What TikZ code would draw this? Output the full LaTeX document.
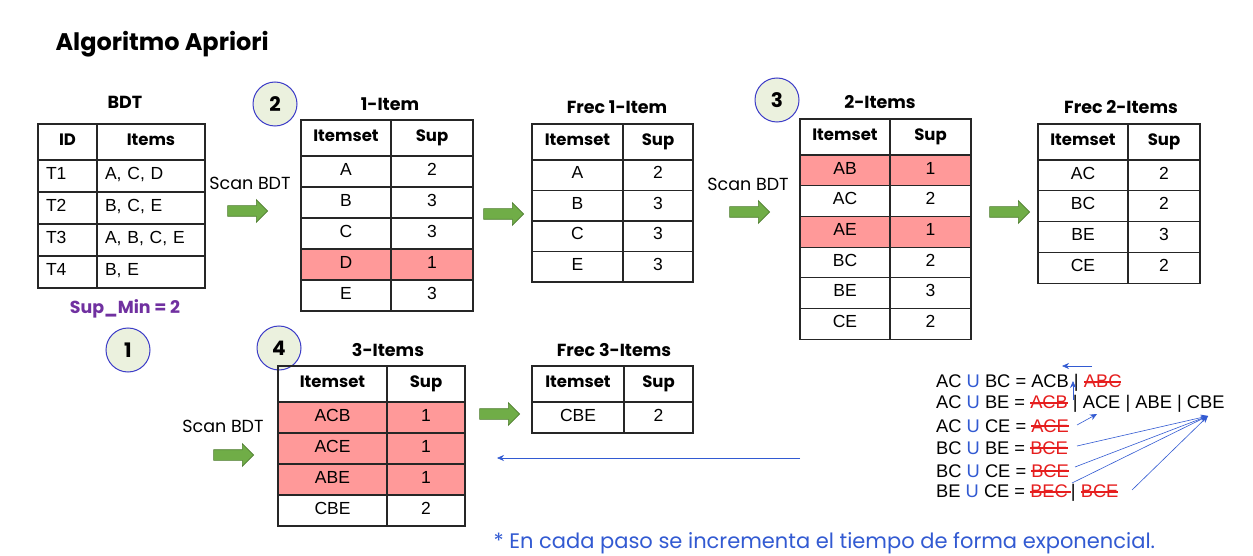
\documentclass[tikz,border=0pt]{standalone}
\usepackage{fontspec}
\setmainfont{Liberation Sans}
\newfontfamily\gotica{Poppins}
\usetikzlibrary{positioning,shapes.arrows,arrows.meta}
\definecolor{rojocelda}{RGB}{255,153,153}
\definecolor{verdeflecha}{RGB}{112,173,71}
\definecolor{verdeborde}{RGB}{80,126,50}
\definecolor{circfondo}{RGB}{235,241,222}
\definecolor{circborde}{RGB}{60,60,200}
\definecolor{azulnota}{RGB}{50,90,210}
\definecolor{morado}{RGB}{112,48,160}
\definecolor{tachado}{RGB}{230,30,30}
\newsavebox\cajatach
\newcommand{\tach}[1]{\sbox\cajatach{#1}\textcolor{tachado}{\rlap{\rule[0.28em]{\wd\cajatach}{1.8pt}}#1}}
\newcommand{\unio}{\textcolor{azulnota}{U}}
\tikzset{
  celda/.style={draw=black!85, line width=1.1pt, rectangle, outer sep=0pt, inner xsep=8pt, inner ysep=0pt,
    text height=1.6ex, text depth=0.2ex, font=\fontsize{17.5}{20}\selectfont},
  cab/.style={minimum height=36pt, font=\gotica\bfseries\fontsize{16.5}{18}\selectfont, align=center},
  bl/.style={align=center},
  rj/.style={fill=rojocelda, align=center},
  izq/.style={align=left},
  titulo/.style={font=\gotica\bfseries\fontsize{17.5}{20}\selectfont},
  paso/.style={circle, draw=circborde, fill=circfondo, line width=1pt, minimum size=44pt, inner sep=0pt,
    font=\gotica\bfseries\fontsize{20}{22}\selectfont},
  flecha/.style={single arrow, draw=verdeborde, fill=verdeflecha, line width=0.6pt, inner sep=5pt,
    minimum height=40pt, single arrow head extend=6pt},
  scan/.style={font=\gotica\fontsize{17.5}{20}\selectfont},
  union/.style={anchor=west, inner sep=0pt, font=\fontsize{18.3}{21}\selectfont},
  enlace/.style={draw=azulnota, line width=0.6pt, -{Stealth[length=7pt,width=6pt]}}
}
% tabla: nombre, x0, x1, x2, ytop, alto fila, filas
\newcommand{\tabla}[7]{%
  \pgfmathsetmacro\anchoa{#3-#2-16}%
  \pgfmathsetmacro\anchob{#4-#3-16}%
  \foreach \a/\b/\e [count=\i, remember=\i as \j (initially 0)] in {#7}{%
    \ifnum\i=1
      \node[celda, minimum height=#6pt, \e, text width=\anchoa pt, anchor=north west] (#1-\i-a) at (#2,#5) {\a};
    \else
      \node[celda, minimum height=#6pt, \e, text width=\anchoa pt, below=0pt of #1-\j-a] (#1-\i-a) {\a};
    \fi
    \node[celda, minimum height=#6pt, \e, text width=\anchob pt, right=0pt of #1-\i-a] (#1-\i-b) {\b};
  }}
\begin{document}
\begin{tikzpicture}[x=1pt,y=-1pt]
  \useasboundingbox[fill=white] (0,0) rectangle (1253,556);
  \node[anchor=west, font=\gotica\bfseries\fontsize{24}{28}\selectfont] (titulo) at (52,44) {Algoritmo Apriori};

  % pasos
  \node[paso] (p1) at (128,350) {1};
  \node[paso] (p2) at (275,104) {2};
  \node[paso] (p3) at (777,100) {3};
  \node[paso] (p4) at (279,348) {4};

  % BDT
  \node[titulo] (tbdt) at (125,102) {BDT};
  \tabla{bdt}{38}{97}{205}{124}{32}{ID/Items/cab, T1/{A, C, D}/izq, T2/{B, C, E}/izq, T3/{A, B, C, E}/izq, T4/{B, E}/izq}
  \node[font=\gotica\bfseries\fontsize{17.4}{20}\selectfont, text=morado] (supmin) at (125,309) {Sup\_Min = 2};

  % paso 2
  \node[scan] (s1) at (250,183) {Scan BDT};
  \node[flecha] (f1) at (245,211) {};
  \node[titulo] (t1) at (390,104) {1-Item};
  \tabla{it1}{301}{391}{473}{120}{31}{Itemset/Sup/cab, A/2/bl, B/3/bl, C/3/bl, D/1/rj, E/3/bl}
  \node[flecha] (f2) at (501,214) {};
  \node[titulo] (tf1) at (617,107) {Frec 1-Item};
  \tabla{fr1}{532}{623}{693}{124}{30.5}{Itemset/Sup/cab, A/2/bl, B/3/bl, C/3/bl, E/3/bl}

  % paso 3
  \node[scan] (s2) at (748,184) {Scan BDT};
  \node[flecha] (f3) at (747,212) {};
  \node[titulo] (t2) at (880,102) {2-Items};
  \tabla{it2}{800}{890}{971}{119}{30.7}{Itemset/Sup/cab, AB/1/rj, AC/2/bl, AE/1/rj, BC/2/bl, BE/3/bl, CE/2/bl}
  \node[flecha] (f4) at (1007,212) {};
  \node[titulo] (tf2) at (1121,107) {Frec 2-Items};
  \tabla{fr2}{1038}{1128}{1200}{124}{30.8}{Itemset/Sup/cab, AC/2/bl, BC/2/bl, BE/3/bl, CE/2/bl}

  % paso 4
  \node[scan] (s3) at (223,426) {Scan BDT};
  \node[flecha] (f5) at (231,455) {};
  \node[titulo] (t3) at (388,350) {3-Items};
  \tabla{it3}{278}{387}{465}{366}{31}{Itemset/Sup/cab, ACB/1/rj, ACE/1/rj, ABE/1/rj, CBE/2/bl}
  \node[flecha] (f6) at (497,414) {};
  \node[titulo] (tf3) at (614,350) {Frec 3-Items};
  \tabla{fr3}{532}{624}{693}{366}{31}{Itemset/Sup/cab, CBE/2/bl}

  % uniones
  \node[union] (u1) at (936,383) {AC \unio{} BC = ACB | \tach{ABC}};
  \node[union] (u2) at (936,404) {AC \unio{} BE = \tach{ACB} | ACE | ABE | CBE};
  \node[union] (u3) at (936,426) {AC \unio{} CE = \tach{ACE}};
  \node[union] (u4) at (936,448) {BC \unio{} BE = \tach{BCE}};
  \node[union] (u5) at (936,471) {BC \unio{} CE = \tach{BCE}};
  \node[union] (u6) at (936,493) {BE \unio{} CE = \tach{BEC\,}| \tach{BCE}};
  \coordinate (a1) at (1092,366);
  \coordinate (a2) at (1062,366);
  \coordinate (b1) at (1073,400);
  \coordinate (b2) at (1073,381);
  \coordinate (c1) at (1077,425);
  \coordinate (c2) at (1097,414);
  \coordinate (cbe) at (1208,416);
  \coordinate (d1) at (1077,446);
  \coordinate (d2) at (1075,467);
  \coordinate (d3) at (1072,483);
  \coordinate (d4) at (1132,490);
  \draw[enlace] (a1) -- (a2);
  \draw[enlace] (b1) -- (b2);
  \draw[enlace] (c1) -- (c2);
  \foreach \o in {d1,d2,d3,d4}
    \draw[enlace] (\o) -- (cbe);
  \coordinate (v1) at (800,458);
  \coordinate (v2) at (497,458);
  \draw[enlace] (v1) -- (v2);

  \node[anchor=west, font=\gotica\fontsize{21}{24}\selectfont, text=azulnota] (nota) at (490,543)
    {* En cada paso se incrementa el tiempo de forma exponencial.};
\end{tikzpicture}
\end{document}
